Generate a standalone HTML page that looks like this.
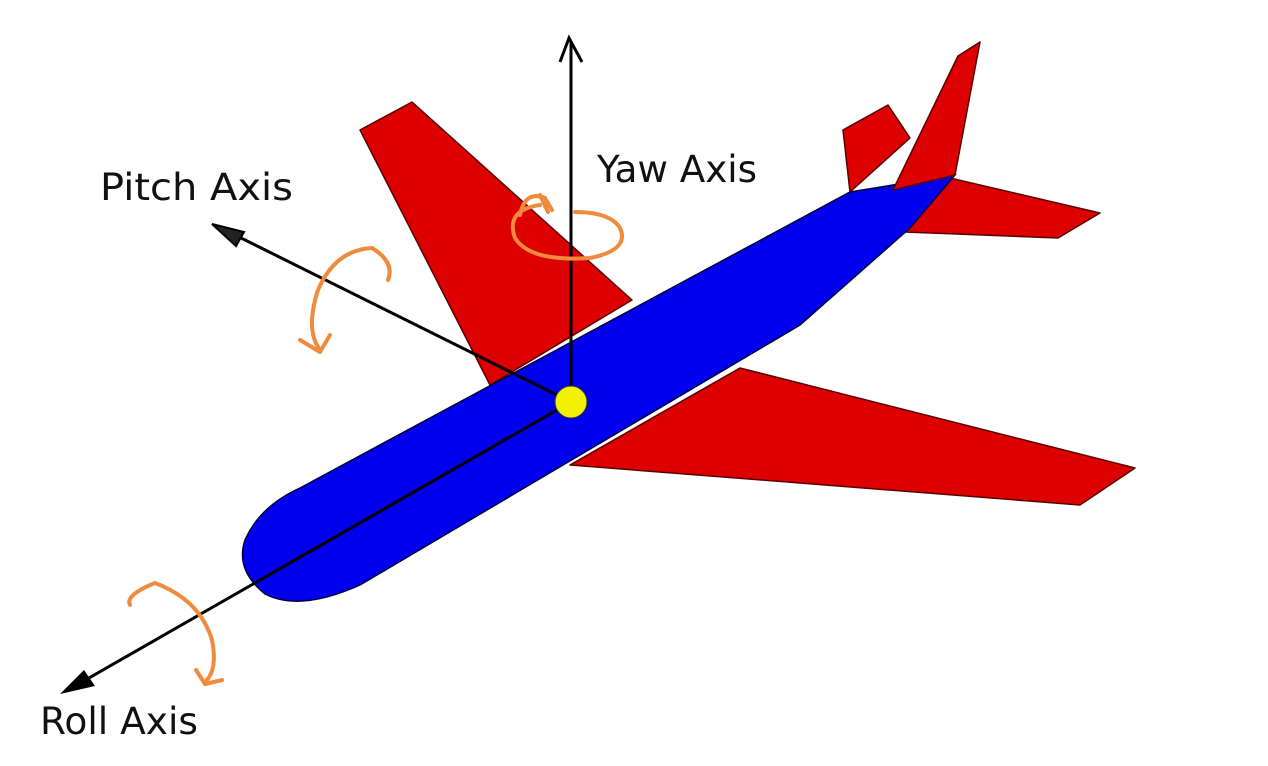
<!DOCTYPE html>
<html><head><meta charset="utf-8"><style>
html,body{margin:0;padding:0;background:#fff;width:1268px;height:766px;overflow:hidden}
svg text{font-family:"DejaVu Sans","Liberation Sans",sans-serif;fill:#111}
</style></head><body>
<svg width="1268" height="766" viewBox="0 0 1268 766">
<g stroke="#5a0000" stroke-width="1.5" stroke-linejoin="round" fill="#dd0000">
<polygon points="360,130 412,102 632,300 490,385"/>
<polygon points="843,130 888,105 910,138 850,192"/>
<polygon points="950,178 1100,213 1058,238 905,232"/>
<polygon points="570,465 740,368 1135,468 1080,505"/>
</g>
<path d="M300,488 L850,192 L955,175 L910,228 L800,325 L360,585 Q300,612 265,594 Q235,570 245,540 Q260,506 300,488 Z" fill="#0000ee" stroke="#00003a" stroke-width="1.5"/>
<polygon points="893,190 958,56 980,42 955,175" fill="#dd0000" stroke="#5a0000" stroke-width="1.5" stroke-linejoin="round"/>
<g stroke="#000" stroke-width="3" fill="none">
<line x1="571" y1="402" x2="571" y2="42"/>
<polyline points="560,62 569,38 582,62"/>
<line x1="571" y1="402" x2="225" y2="230"/>
<line x1="571" y1="402" x2="75" y2="686"/>
</g>
<polygon points="212,224 244,232 236,246" fill="#222" stroke="#000" stroke-width="2"/>
<polygon points="60,694 84,670 95,686" fill="#000"/>
<circle cx="571" cy="402" r="16" fill="#f2f200" stroke="#333" stroke-width="1"/>
<g stroke="#f08a3c" stroke-width="4" fill="none" stroke-linecap="round" stroke-linejoin="round">
<path d="M372,248 Q395,262 388,280 M372,248 Q335,250 318,290 Q305,330 320,350 M300,340 L320,352 L330,335"/>
<path d="M540,205 Q505,210 515,238 Q530,262 590,258 Q630,250 620,228 Q610,212 575,212 M520,215 Q525,190 545,198 L552,210 M540,195 L548,212"/>
<path d="M155,583 Q125,595 130,605 M155,583 Q200,600 212,640 Q218,670 205,682 M196,670 L205,684 L222,680"/>
</g>
<text x="100" y="200" font-size="37" textLength="193" lengthAdjust="spacingAndGlyphs">Pitch Axis</text>
<text x="597" y="182" font-size="37" textLength="160" lengthAdjust="spacingAndGlyphs">Yaw Axis</text>
<text x="40" y="734" font-size="37" textLength="158" lengthAdjust="spacingAndGlyphs">Roll Axis</text>
</svg>
</body></html>
